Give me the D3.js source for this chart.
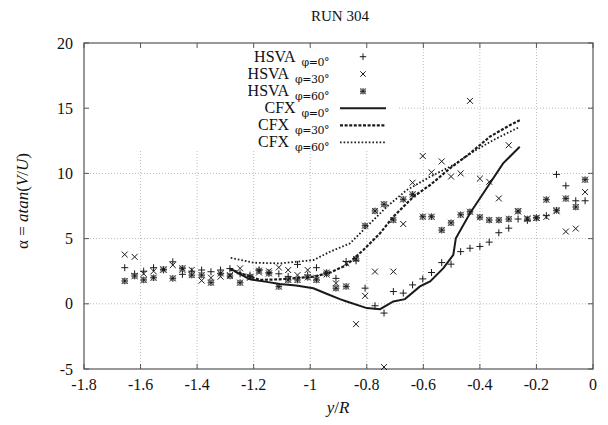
<!DOCTYPE html>
<html>
<head>
<meta charset="utf-8">
<script src="https://cdn.jsdelivr.net/npm/d3@7"></script>
<style>
  body { margin: 0; background: #fff; }
</style>
</head>
<body>
<div id="chart"></div>
<script>
// HSVA measurement positions (y/R)
const hsvaX = [-1.656, -1.621, -1.589, -1.554, -1.519, -1.486, -1.452, -1.419, -1.384, -1.351,
    -1.317, -1.284, -1.248, -1.213, -1.181, -1.146, -1.111, -1.078, -1.045, -1.009,
    -0.978, -0.942, -0.909, -0.873, -0.838, -0.806, -0.771, -0.739, -0.706, -0.671,
    -0.638, -0.602, -0.571, -0.535, -0.502, -0.468, -0.435, -0.400, -0.367, -0.333,
    -0.298, -0.265, -0.232, -0.200, -0.165, -0.129, -0.096, -0.061, -0.028];

const hsva0 = [2.77, 2.3, 2.5, 2.77, 2.6, 3.22, 2.26, 2.5, 2.59, 2.46,
    2.59, 2.7, 2.3, 2.2, 2.6, 2.4, 2.3, 2.1, 3.02, 2.2,
    2.77, 2.3, 1.95, 3.24, 3.3, 1.2, -0.15, -0.71, 0.94, 0.82,
    1.45, 1.91, 2.40, 3.16, 3.04, 4.0, 4.26, 4.40, 4.73, 5.45,
    5.8, 6.5, 6.4, 6.6, 6.76, 9.92, 9.05, 7.9, 7.9];

const hsva30 = [3.78, 3.60, 2.3, 2.5, 2.6, 2.97, 2.6, 2.6, 1.78, 2.0,
    2.08, 2.2, 2.72, 2.0, 2.4, 2.5, 2.79, 2.59, 2.2, 2.59,
    2.0, 2.25, 1.57, 3.1, -1.56, 0.61, 2.47, -4.85, 2.47, 6.12,
    9.29, 11.33, 10.08, 10.92, 9.76, 10.0, 15.56, 9.6, 9.36, 8.08,
    12.16, 7.09, 6.55, 6.6, 6.66, 7.1, 5.54, 5.77, 8.57];

const hsva60 = [1.75, 2.13, 1.83, 2.0, 2.64, 1.95, 2.72, 2.2, 2.2, 1.62,
    2.33, 2.13, 1.62, 2.08, 2.54, 2.33, 1.32, 1.83, 1.83, 2.03,
    1.83, 2.39, 1.19, 1.33, 3.44, 5.99, 7.12, 7.63, 6.43, 8.01,
    8.39, 6.68, 6.68, 5.65, 6.21, 6.83, 7.06, 6.64, 6.42, 6.42,
    6.5, 7.1, 6.5, 6.58, 7.99, 7.17, 8.07, 7.42, 9.52];

// CFX curves
const cfx0X = [-1.284, -1.25, -1.213, -1.16, -1.107, -1.05, -0.989, -0.94, -0.895, -0.871, -0.8, -0.753,
    -0.706, -0.665, -0.612, -0.576, -0.529, -0.494, -0.485, -0.435, -0.365, -0.318, -0.259];
const cfx0Y = [2.72, 2.3, 1.88, 1.7, 1.52, 1.4, 1.19, 0.75, 0.36, 0.18, -0.33, -0.41,
    0.18, 0.36, 1.33, 1.71, 2.73, 3.75, 5.03, 6.94, 9.23, 10.77, 12.04];

const cfx30X = [-1.284, -1.178, -1.107, -0.989, -0.929, -0.871, -0.812, -0.753, -0.706, -0.635,
    -0.576, -0.506, -0.435, -0.365, -0.294, -0.259];
const cfx30Y = [2.64, 1.83, 1.88, 2.08, 2.40, 2.98, 4.13, 5.41, 6.68, 8.21,
    9.11, 10.38, 11.53, 12.81, 13.70, 14.08];

const cfx60X = [-1.281, -1.2, -1.107, -0.989, -0.929, -0.859, -0.8, -0.729, -0.659, -0.576,
    -0.494, -0.424, -0.353, -0.294, -0.259];
const cfx60Y = [3.53, 3.15, 3.10, 3.35, 4.0, 4.64, 5.92, 7.45, 8.72, 9.74,
    10.64, 11.66, 12.55, 13.19, 13.57];

const xTicks = [-1.8, -1.6, -1.4, -1.2, -1, -0.8, -0.6, -0.4, -0.2, 0];
const yTicks = [-5, 0, 5, 10, 15, 20];

const legendNames = ["HSVA", "HSVA", "HSVA", "CFX", "CFX", "CFX"];
const legendSubs = ["\u03c6=0\u00b0", "\u03c6=30\u00b0", "\u03c6=60\u00b0", "\u03c6=0\u00b0", "\u03c6=30\u00b0", "\u03c6=60\u00b0"];

const W = 608, H = 425;
const margin = {top: 43, right: 15, bottom: 56, left: 84};
const width = W - margin.left - margin.right,
    height = H - margin.top - margin.bottom;

const serif = "'Liberation Serif', 'DejaVu Serif', serif";

const svg = d3.select("#chart").append("svg")
    .attr("width", W)
    .attr("height", H)
    .attr("font-family", serif)
    .style("font-family", serif);

const g = svg.append("g")
    .attr("transform", "translate(" + margin.left + "," + margin.top + ")");

const x = d3.scaleLinear().domain([-1.8, 0]).range([0, width]);
const y = d3.scaleLinear().domain([-5, 20]).range([height, 0]);

const textInk = "#111";

// grid
const grid = g.append("g").attr("class", "grid");
grid.selectAll(".gx").data(xTicks.slice(1, -1)).enter().append("line")
    .attr("x1", d => x(d)).attr("x2", d => x(d))
    .attr("y1", 0).attr("y2", height)
    .attr("stroke", "#aaa").attr("stroke-width", 0.8).attr("stroke-dasharray", "1,2");
grid.selectAll(".gy").data(yTicks.slice(1, -1)).enter().append("line")
    .attr("x1", 0).attr("x2", width)
    .attr("y1", d => y(d)).attr("y2", d => y(d))
    .attr("stroke", "#aaa").attr("stroke-width", 0.8).attr("stroke-dasharray", "1,2");

// opaque key area
g.append("rect")
    .attr("x", 0).attr("y", 0)
    .attr("width", 314).attr("height", 108)
    .attr("fill", "#fff");

// frame and inward ticks on all sides
const axisColor = "#555";
g.append("rect")
    .attr("width", width).attr("height", height)
    .attr("fill", "none").attr("stroke", axisColor).attr("stroke-width", 1.2);

const tickLen = 5;
xTicks.forEach(t => {
    g.append("line").attr("x1", x(t)).attr("x2", x(t)).attr("y1", height).attr("y2", height - tickLen)
        .attr("stroke", axisColor);
    g.append("line").attr("x1", x(t)).attr("x2", x(t)).attr("y1", 0).attr("y2", tickLen)
        .attr("stroke", axisColor);
    g.append("text").attr("x", x(t)).attr("y", height + 21)
        .attr("text-anchor", "middle").attr("font-size", 16).attr("fill", textInk)
        .text(t === 0 ? "0" : String(t));
});
yTicks.forEach(t => {
    g.append("line").attr("x1", 0).attr("x2", tickLen).attr("y1", y(t)).attr("y2", y(t))
        .attr("stroke", axisColor);
    g.append("line").attr("x1", width).attr("x2", width - tickLen).attr("y1", y(t)).attr("y2", y(t))
        .attr("stroke", axisColor);
    g.append("text").attr("x", -11).attr("y", y(t) + 5.5)
        .attr("text-anchor", "end").attr("font-size", 16).attr("fill", textInk)
        .text(String(t));
});

// titles
svg.append("text").attr("x", 340).attr("y", 21)
    .attr("text-anchor", "middle").attr("font-size", 15).attr("fill", textInk).text("RUN 304");

const xl = svg.append("text").attr("x", 338).attr("y", 413)
    .attr("text-anchor", "middle").attr("font-size", 17).attr("fill", textInk);
xl.append("tspan").attr("font-style", "italic").text("y");
xl.append("tspan").text("/");
xl.append("tspan").attr("font-style", "italic").text("R");

const yl = svg.append("text")
    .attr("transform", "translate(28,201) rotate(-90)")
    .attr("text-anchor", "middle").attr("font-size", 17).attr("fill", textInk);
yl.append("tspan").text("\u03b1 = ");
yl.append("tspan").attr("font-style", "italic").text("atan");
yl.append("tspan").text("(");
yl.append("tspan").attr("font-style", "italic").text("V");
yl.append("tspan").text("/");
yl.append("tspan").attr("font-style", "italic").text("U");
yl.append("tspan").text(")");

// markers
const ink = "#1a1a1a";
const plot = g.append("g");

function plus(sel, s) {
    sel.append("path").attr("d", `M${-s},0H${s}M0,${-s}V${s}`)
        .attr("stroke", ink).attr("stroke-width", 1).attr("fill", "none");
}
function cross(sel, s) {
    sel.append("path").attr("d", `M${-s},${-s}L${s},${s}M${-s},${s}L${s},${-s}`)
        .attr("stroke", ink).attr("stroke-width", 1).attr("fill", "none");
}
function star(sel, s) {
    plus(sel, s);
    cross(sel, s * 0.9);
    sel.append("rect").attr("x", -s * 0.7).attr("y", -s * 0.7)
        .attr("width", s * 1.4).attr("height", s * 1.4)
        .attr("fill", "none").attr("stroke", "#666").attr("stroke-width", 0.8);
}

function drawPoints(vals, shape) {
    const pts = hsvaX.map((xv, i) => ({x: xv, y: vals[i]}));
    plot.append("g").selectAll("g").data(pts).enter().append("g")
        .attr("transform", d => "translate(" + x(d.x) + "," + y(d.y) + ")")
        .each(function () { shape(d3.select(this), 3.5); });
}
drawPoints(hsva0, plus);
drawPoints(hsva30, (s, r) => cross(s, r * 0.85));
drawPoints(hsva60, (s, r) => star(s, r * 0.95));

// curves
const line = d3.line().x(d => x(d[0])).y(d => y(d[1])).curve(d3.curveLinear);
const curves = [
    {xs: cfx0X, ys: cfx0Y, dash: null, w: 2},
    {xs: cfx30X, ys: cfx30Y, dash: "3,1.6", w: 2.2},
    {xs: cfx60X, ys: cfx60Y, dash: "1.6,2", w: 1.8}
];
curves.forEach(c => {
    plot.append("path")
        .datum(c.xs.map((v, i) => [v, c.ys[i]]))
        .attr("d", line)
        .attr("fill", "none")
        .attr("stroke", ink)
        .attr("stroke-width", c.w)
        .attr("stroke-dasharray", c.dash);
});

// legend
const rowY = [56.7, 74, 91.3, 108.3, 125.3, 142.3];
const shapes = [plus, (s, r) => cross(s, r * 0.85), (s, r) => star(s, r * 0.95)];
legendNames.forEach((name, i) => {
    const t = svg.append("text")
        .attr("x", 329).attr("y", rowY[i] + 5)
        .attr("text-anchor", "end").attr("font-size", 16).attr("fill", textInk);
    t.append("tspan").attr("fill", textInk).text(name);
    t.append("tspan")
        .attr("font-size", 11).attr("dx", 6).attr("dy", 4)
        .attr("fill", textInk)
        .style("fill", textInk)
        .attr("font-family", "'DejaVu Serif', serif")
        .style("font-family", "'DejaVu Serif', serif")
        .style("letter-spacing", "-0.5px")
        .text(legendSubs[i]);
    if (i < 3) {
        const m = svg.append("g").attr("transform", "translate(363," + rowY[i] + ")");
        shapes[i](m, 3.2);
    } else {
        const c = curves[i - 3];
        svg.append("line")
            .attr("x1", 340).attr("x2", 386)
            .attr("y1", rowY[i]).attr("y2", rowY[i])
            .attr("stroke", ink)
            .attr("stroke-width", c.w)
            .attr("stroke-dasharray", c.dash);
    }
});
</script>
</body>
</html>
